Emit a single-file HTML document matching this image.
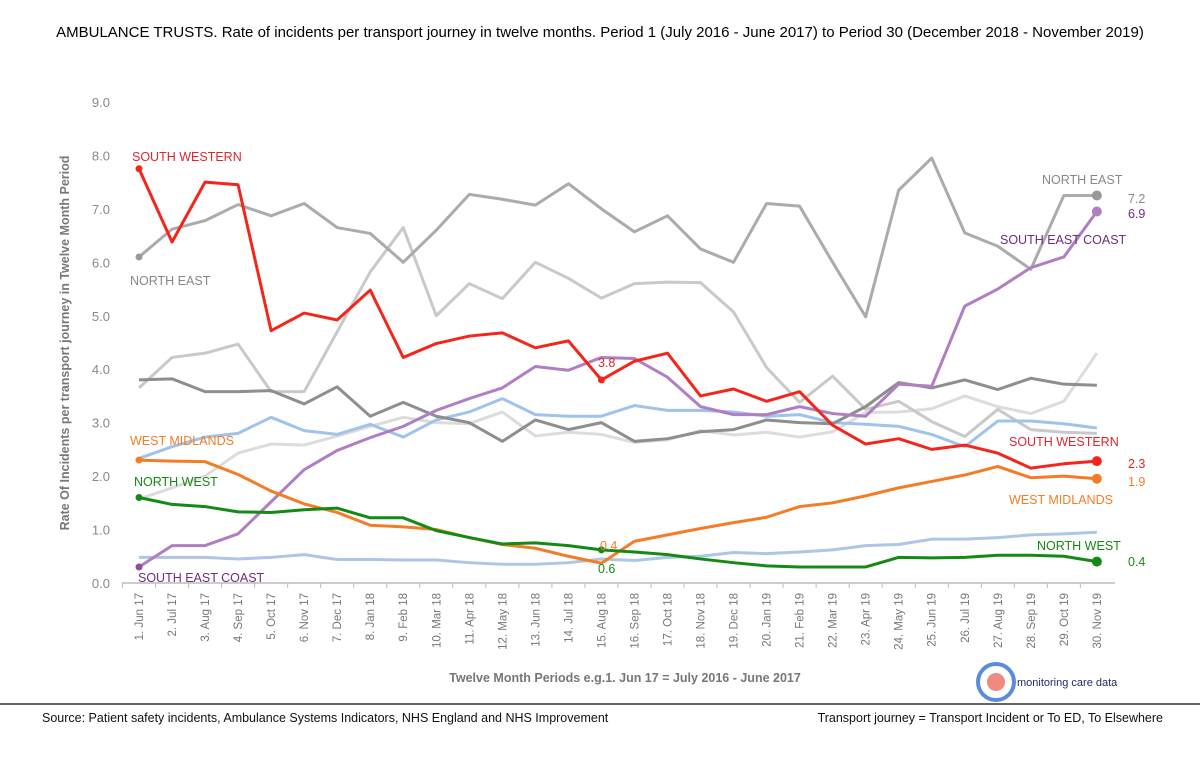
<!DOCTYPE html>
<html><head><meta charset="utf-8"><style>
body{margin:0;background:#fff;font-family:"Liberation Sans",sans-serif;}
svg{display:block}
</style></head><body>
<svg id="c" width="1200" height="780" xmlns="http://www.w3.org/2000/svg" font-family="Liberation Sans, sans-serif">
<text x="600" y="37" text-anchor="middle" font-size="15" fill="#000">AMBULANCE TRUSTS. Rate of incidents per transport journey in twelve months. Period 1 (July 2016 - June 2017) to Period 30 (December 2018 - November 2019)</text>
<text transform="translate(69,343) rotate(-90)" text-anchor="middle" font-size="12.5" font-weight="bold" fill="#777">Rate Of Incidents per transport journey in Twelve Month Period</text>
<text x="625" y="682" text-anchor="middle" font-size="12.5" font-weight="bold" fill="#777">Twelve Month Periods e.g.1. Jun 17  = July 2016 - June 2017</text>
<g id="grid"></g><g id="lines"></g><g id="ann"></g>
<line x1="0" y1="704" x2="1200" y2="704" stroke="#333" stroke-width="1.5"/>
<text x="42" y="722" font-size="12.5" fill="#111">Source: Patient safety incidents, Ambulance Systems Indicators, NHS England and NHS Improvement</text>
<text x="1163" y="722" text-anchor="end" font-size="12.5" fill="#111">Transport journey = Transport Incident or To ED, To Elsewhere</text>
<g>
<circle cx="996" cy="682" r="18" fill="none" stroke="#5b8bdc" stroke-width="4"/>
<circle cx="996" cy="682" r="9" fill="#f08a80"/>
<text x="1017" y="686" font-size="11" fill="#1f2a6b">monitoring care data</text>
</g>
</svg>
<script>
const categories=["1. Jun 17","2. Jul 17","3. Aug 17","4. Sep 17","5. Oct 17","6. Nov 17","7. Dec 17","8. Jan 18","9. Feb 18","10. Mar 18","11. Apr 18","12. May 18","13. Jun 18","14. Jul 18","15. Aug 18","16. Sep 18","17. Oct 18","18. Nov 18","19. Dec 18","20. Jan 19","21. Feb 19","22. Mar 19","23. Apr 19","24. May 19","25. Jun 19","26. Jul 19","27. Aug 19","28. Sep 19","29. Oct 19","30. Nov 19"];
const yTicks=[0,1,2,3,4,5,6,7,8,9];
const northEast=[6.1,6.62,6.78,7.08,6.87,7.1,6.65,6.54,6.0,6.6,7.27,7.18,7.07,7.47,7.0,6.57,6.87,6.25,6.0,7.1,7.05,6.0,4.98,7.35,7.95,6.55,6.3,5.87,7.25,7.25];
const trustA=[3.65,4.22,4.3,4.47,3.58,3.58,4.7,5.82,6.65,5.0,5.6,5.32,6.0,5.7,5.33,5.6,5.63,5.62,5.07,4.03,3.38,3.87,3.25,3.4,3.02,2.74,3.25,2.87,2.82,2.8];
const trustB=[1.57,1.78,2.0,2.43,2.6,2.58,2.75,2.93,3.1,3.0,2.98,3.2,2.75,2.82,2.78,2.63,2.68,2.85,2.77,2.82,2.73,2.83,3.19,3.2,3.26,3.5,3.3,3.17,3.4,4.3];
const trustC=[3.8,3.82,3.58,3.58,3.6,3.35,3.67,3.12,3.38,3.12,3.0,2.65,3.05,2.87,3.0,2.65,2.7,2.83,2.87,3.05,3.0,2.98,3.3,3.75,3.65,3.8,3.62,3.83,3.72,3.7];
const trustD=[2.33,2.55,2.73,2.8,3.1,2.85,2.78,2.97,2.73,3.05,3.2,3.45,3.15,3.12,3.12,3.32,3.23,3.23,3.2,3.12,3.15,3.0,2.97,2.93,2.78,2.55,3.03,3.03,2.98,2.9];
const trustE=[0.48,0.48,0.48,0.45,0.48,0.53,0.44,0.44,0.43,0.43,0.38,0.35,0.35,0.38,0.45,0.42,0.48,0.5,0.57,0.55,0.58,0.62,0.7,0.72,0.82,0.82,0.85,0.9,0.92,0.95];
const southWestern=[7.75,6.38,7.5,7.45,4.72,5.05,4.92,5.48,4.22,4.48,4.62,4.68,4.4,4.53,3.8,4.15,4.3,3.5,3.63,3.4,3.58,2.95,2.6,2.7,2.5,2.58,2.43,2.15,2.23,2.28];
const southEastCoast=[0.3,0.7,0.7,0.92,1.52,2.12,2.48,2.72,2.93,3.23,3.45,3.65,4.05,3.98,4.22,4.2,3.85,3.3,3.15,3.15,3.3,3.17,3.12,3.72,3.68,5.18,5.5,5.9,6.1,6.95];
const westMidlands=[2.3,2.28,2.27,2.03,1.72,1.48,1.32,1.08,1.05,1.0,0.85,0.72,0.65,0.5,0.37,0.78,0.9,1.02,1.13,1.23,1.43,1.5,1.63,1.78,1.9,2.02,2.18,1.97,2.0,1.95];
const northWest=[1.6,1.47,1.43,1.33,1.32,1.37,1.4,1.22,1.22,0.98,0.85,0.73,0.75,0.7,0.62,0.58,0.53,0.45,0.38,0.32,0.3,0.3,0.3,0.48,0.47,0.48,0.52,0.52,0.5,0.4];

const NS="http://www.w3.org/2000/svg";
const x=i=>139+i*33.03;
const y=v=>583-v*53.45;
function mk(t,a,p){const e=document.createElementNS(NS,t);for(const k in a)e.setAttribute(k,a[k]);p.appendChild(e);return e;}
const grid=document.getElementById('grid');
yTicks.forEach(t=>{const e=mk('text',{x:110,y:y(t)+5,'text-anchor':'end','font-size':13,fill:'#888'},grid);


e.textContent=t.toFixed(1);});
const ax=mk('line',{x1:122,y1:583,x2:1115,y2:583,stroke:'#bbb','stroke-width':1.5},grid);


categories.forEach((c,i)=>{
 const tk=mk('line',{x1:x(i)-16.5,y1:583,x2:x(i)-16.5,y2:588,stroke:'#bbb'},grid);
 
 
 const e=mk('text',{transform:`translate(${x(i)+4},593) rotate(-90)`,'text-anchor':'end','font-size':11.5,fill:'#777'},grid);
 
 
 e.textContent=c;});
const lines=document.getElementById('lines');
const series=[[trustE,'#adc6e6',3,'trust-e-line'],[trustB,'#dcdcdc',3,'trust-b-line'],[trustA,'#c9c9c9',3,'trust-a-line'],[trustD,'#9fc3ea',3,'trust-d-line'],[trustC,'#8e8e8e',3,'trust-c-line'],[northEast,'#ababab',3,'north-east-line'],[southEastCoast,'#b07ec2',3,'south-east-coast-line'],[westMidlands,'#f47c26',3,'west-midlands-line'],[northWest,'#148a14',3,'north-west-line'],[southWestern,'#f4261c',3,'south-western-line']];
series.forEach(s=>{const p=mk('polyline',{points:s[0].map((v,i)=>x(i)+','+y(v)).join(' '),fill:'none',stroke:s[1],'stroke-width':s[2],'stroke-linejoin':'round'},lines);

});
const dots=[[northEast,0,'#999',3.5],[northEast,29,'#999',5],[southEastCoast,0,'#8e4fa0',3.5],[southEastCoast,29,'#b07ec2',5],[southWestern,0,'#f4261c',3.5],[southWestern,14,'#f4261c',3.5],[southWestern,29,'#f4261c',5],[westMidlands,0,'#f47c26',3.5],[westMidlands,29,'#f47c26',5],[northWest,0,'#148a14',3.5],[northWest,14,'#148a14',3.5],[northWest,29,'#148a14',5]];
dots.forEach(d=>{const c=mk('circle',{cx:x(d[1]),cy:y(d[0][d[1]]),r:d[3],fill:d[2]},lines);

});
const ann=document.getElementById('ann');
const labels=[[132,161,'SOUTH WESTERN','#e3242b'],[130,285,'NORTH EAST','#888'],[130,445,'WEST MIDLANDS','#f47c26'],[134,486,'NORTH WEST','#148a14'],[138,582,'SOUTH EAST COAST','#702a80'],[598,367,'3.8','#e3242b'],[600,550,'0.4','#f47c26'],[598,573,'0.6','#148a14'],[1042,184,'NORTH EAST','#888'],[1000,244,'SOUTH EAST COAST','#702a80'],[1009,446,'SOUTH WESTERN','#e3242b'],[1009,504,'WEST MIDLANDS','#f47c26'],[1037,550,'NORTH WEST','#148a14'],[1128,203,'7.2','#888'],[1128,218,'6.9','#702a80'],[1128,468,'2.3','#e3242b'],[1128,486,'1.9','#f47c26'],[1128,566,'0.4','#148a14']];
labels.forEach(l=>{const t=mk('text',{x:l[0],y:l[1],'font-size':12.5,fill:l[3]},ann);


t.textContent=l[2];});
</script>
</body></html>
